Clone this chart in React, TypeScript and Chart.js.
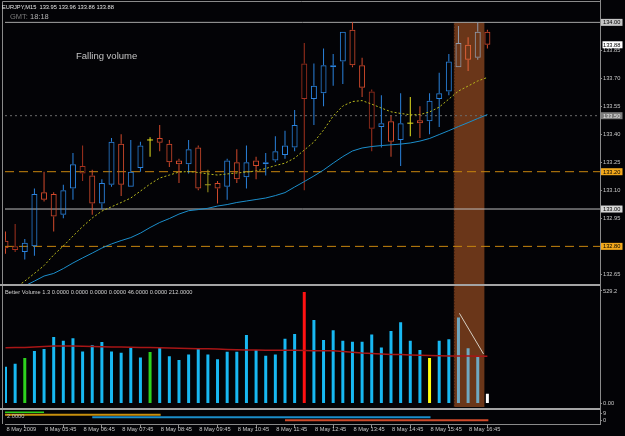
import React, { useEffect, useRef } from 'react';
import { Chart, registerables } from 'chart.js';

Chart.register(...registerables);

// ---------------- data ----------------
const SYMBOL = 'EURJPY,M15';
const GMT_LABEL = 'GMT:';
const GMT_TIME = '18:18';
const NOTE_TEXT = 'Falling volume';
const VOLUME_CAPTION = 'Better Volume 1.3 0.0000 0.0000 0.0000 0.0000 46.0000 0.0000 212.0000';
const LOWER_CAPTION = '2.0000';

const OPEN = [132.83, 132.80, 132.77, 132.80, 133.09, 133.08, 132.97, 133.11, 133.23, 133.18,
  133.03, 133.13, 133.35, 133.12, 133.22, 133.37, 133.38, 133.35, 133.26, 133.24,
  133.33, 133.13, 133.14, 133.12, 133.25, 133.17, 133.26, 133.24, 133.26, 133.29,
  133.33, 133.78, 133.59, 133.62, 133.76, 133.79, 133.96, 133.77, 133.63, 133.44,
  133.47, 133.37, 133.46, 133.475, 133.47, 133.59, 133.63, 133.76, 133.88, 133.81, 133.95];
const HIGH = [132.88, 132.92, 132.84, 133.11, 133.20, 133.09, 133.13, 133.30, 133.34, 133.21,
  133.16, 133.38, 133.40, 133.37, 133.36, 133.385, 133.45, 133.37, 133.27, 133.37,
  133.34, 133.21, 133.15, 133.27, 133.32, 133.34, 133.28, 133.30, 133.39, 133.42,
  133.53, 133.89, 133.78, 133.86, 133.83, 133.95, 134.00, 133.81, 133.64, 133.61,
  133.50, 133.62, 133.60, 133.55, 133.62, 133.73, 133.83, 133.98, 133.92, 134.00, 133.96];
const LOW = [132.76, 132.77, 132.73, 132.75, 133.04, 132.88, 132.95, 133.05, 133.15, 132.97,
  133.00, 133.12, 133.07, 133.12, 133.20, 133.28, 133.31, 133.225, 133.14, 133.19,
  133.10, 133.09, 133.03, 133.05, 133.14, 133.11, 133.16, 133.18, 133.25, 133.27,
  133.31, 133.10, 133.45, 133.55, 133.66, 133.67, 133.76, 133.60, 133.31, 133.33,
  133.28, 133.23, 133.39, 133.38, 133.40, 133.44, 133.61, 133.76, 133.74, 133.80, 133.86];
const CLOSE = [132.79, 132.78, 132.82, 133.08, 133.05, 132.96, 133.10, 133.24, 133.19, 133.03,
  133.14, 133.36, 133.13, 133.20, 133.34, 133.37, 133.355, 133.25, 133.24, 133.32,
  133.11, 133.13, 133.11, 133.26, 133.16, 133.25, 133.23, 133.25, 133.31, 133.34,
  133.45, 133.59, 133.66, 133.77, 133.77, 133.95, 133.77, 133.65, 133.43, 133.46,
  133.36, 133.46, 133.46, 133.46, 133.58, 133.62, 133.79, 133.89, 133.80, 133.95, 133.88];

// moving averages on price
const MA_FAST = [132.539, 132.577, 132.614, 132.655, 132.697, 132.754, 132.802, 132.855, 132.906, 132.952,
  132.989, 133.012, 133.035, 133.059, 133.096, 133.134, 133.166, 133.182, 133.198, 133.201,
  133.196, 133.188, 133.182, 133.188, 133.193, 133.198, 133.204, 133.217, 133.233, 133.246,
  133.273, 133.316, 133.359, 133.423, 133.498, 133.552, 133.576, 133.581, 133.562, 133.541,
  133.521, 133.512, 133.505, 133.506, 133.52, 133.546, 133.589, 133.632, 133.659, 133.686, 133.705];
const MA_SLOW = [132.529, 132.561, 132.588, 132.614, 132.641, 132.655, 132.681, 132.711, 132.738, 132.764,
  132.791, 132.813, 132.831, 132.847, 132.871, 132.901, 132.928, 132.949, 132.973, 132.991,
  132.997, 133.004, 133.016, 133.024, 133.035, 133.043, 133.051, 133.059, 133.072, 133.088,
  133.118, 133.147, 133.177, 133.209, 133.246, 133.281, 133.311, 133.327, 133.335, 133.34,
  133.344, 133.348, 133.354, 133.364, 133.378, 133.399, 133.42, 133.442, 133.463, 133.485, 133.506];

// Better Volume
const VOLUME = [173, 187, 214, 247, 256, 313, 295, 307, 245, 274,
  289, 245, 239, 266, 216, 242, 261, 222, 205, 231,
  258, 231, 208, 244, 244, 322, 252, 225, 231, 305,
  327, 524, 393, 299, 344, 295, 291, 291, 325, 264,
  341, 382, 295, 252, 214, 295, 302, 404, 260, 223, 46];
// n = normal, g = low volume, r = climax, y = churn, c = current bar
const VOLUME_TYPE = ['n', 'n', 'g', 'n', 'n', 'n', 'n', 'n', 'n', 'n',
  'n', 'n', 'n', 'n', 'n', 'g', 'n', 'n', 'n', 'n',
  'n', 'n', 'n', 'n', 'n', 'n', 'n', 'n', 'n', 'n',
  'n', 'r', 'n', 'n', 'n', 'n', 'n', 'n', 'n', 'n',
  'n', 'n', 'n', 'n', 'y', 'n', 'n', 'n', 'n', 'n', 'c'];
const VOLUME_MA = [262, 263, 264, 266, 268, 270, 270, 270, 269, 268,
  267, 266, 266, 265, 264, 263, 262, 261, 260, 259,
  258, 257, 256, 254, 253, 252, 252, 251, 250, 250,
  250, 249, 248, 248, 248, 245, 241, 237, 235, 233,
  231, 230, 228, 227, 226, 225, 224, 223, 223, 222, 222];
const VOLUME_TREND_X = [47.1, 49.6];
const VOLUME_TREND_Y = [424, 233];

// time axis (one label every LABEL_STEP bars)
const LABEL_STEP = 4;
const TIME_LABELS = ['8 May 2009', '8 May 05:45', '8 May 06:45', '8 May 07:45', '8 May 08:45',
  '8 May 09:45', '8 May 10:45', '8 May 11:45', '8 May 12:45', '8 May 13:45',
  '8 May 14:45', '8 May 15:45', '8 May 16:45'];

// axis ticks
const PRICE_TICKS = [132.65, 132.80, 132.95, 133.10, 133.25, 133.40, 133.55, 133.70, 133.85];
const VOLUME_TICKS = [0, 529.2];
const LOWER_TICKS = [0, 9];

// horizontal price levels (objects on the chart)
const LEVEL_PRICES = [134.00, 133.50, 133.20, 133.00, 132.80];

// highlighted zone (bar index range, top price)
const HIGHLIGHT_FROM = 46.52;
const HIGHLIGHT_TO = 49.69;
const HIGHLIGHT_TOP = 134.00;

// lower indicator segments
const LOWER_LEVELS = [9.9, 6.8, 3.5, -0.4];
const LOWER_FROM = [-0.05, -0.05, 9.0, 29.0];
const LOWER_TO = [4.0, 16.1, 44.1, 50.1];

// axis ranges
const X_MIN = -0.052;
const X_MAX = 61.685;
const MAIN_MIN = 132.593;
const MAIN_MAX = 134.077;
const VOL_MIN = -23.5;
const VOL_MAX = 557.4;
const LOW_MIN = -5.14;
const LOW_MAX = 14.79;

// ---------------- layout / style ----------------
const W = 625;
const H = 436;
const AXIS_W = 25;
const XAXIS_H = 12;
const PLOT_TOP = 8;
const MAIN_BOTTOM = 285;
const VOL_BOTTOM = 408.5;
const PLOT_BOTTOM = H - XAXIS_H;
const FONT = "'Liberation Sans', Arial, sans-serif";
const BG = '#030306';
const FRAME = '#8a8a8a';
const TXT = '#c8c8c8';

const LEVEL_STYLE = [
  { line: '#a6a6a6', dash: [] as number[], box: '#c4c4c4', text: '#000000' },
  { line: '#6c6c6c', dash: [2, 3], box: '#7c7c7c', text: '#e8e8e8' },
  { line: '#c8860e', dash: [9, 5], box: '#f2a81c', text: '#000000' },
  { line: '#bdbdbd', dash: [] as number[], box: '#d6d6d6', text: '#000000' },
  { line: '#c8860e', dash: [9, 5], box: '#f2a81c', text: '#000000' },
];
const DARK_BARS = [1, 8, 31, 38];
const OLIVE_BARS = [21];

export default function App() {
  const canvasRef = useRef<HTMLCanvasElement | null>(null);

  useEffect(() => {
    const canvas = canvasRef.current;
    if (!canvas) return;
    const n = CLOSE.length;
    const idx = Array.from({ length: n }, (_, i) => i);
    const inHL = (i: number) => i > HIGHLIGHT_FROM && i < HIGHLIGHT_TO;

    const candleColor = (i: number) => {
      const up = CLOSE[i] > OPEN[i];
      const down = CLOSE[i] < OPEN[i];
      if (inHL(i)) return up ? '#8e99aa' : down ? '#e4643a' : '#d8d040';
      if (!up && !down) return OLIVE_BARS.includes(i) ? '#a09a1e' : '#e8e41e';
      if (DARK_BARS.includes(i)) return '#a3321e';
      return up ? '#2a82dc' : '#d24a2c';
    };
    const colors = idx.map(candleColor);
    const volColor = (i: number) => {
      if (inHL(i)) return '#6fa8c2';
      const t = VOLUME_TYPE[i];
      if (t === 'g') return '#2ed21e';
      if (t === 'r') return '#ff1212';
      if (t === 'y') return '#ffff10';
      if (t === 'c') return '#ffffff';
      return '#18b8f2';
    };

    // clip each dataset to its own pane (the pane area of its y axis)
    const clip = 0;

    const lineBase = { type: 'line', pointRadius: 0, tension: 0, fill: false, borderWidth: 1, clip };
    const barBase = { type: 'bar', grouped: false, borderWidth: 0, inflateAmount: 0, borderSkipped: false, clip };

    const datasets: any[] = [];

    LEVEL_PRICES.forEach((p, k) => {
      datasets.push({
        ...lineBase, yAxisID: 'y', order: 9,
        borderColor: LEVEL_STYLE[k].line, borderDash: LEVEL_STYLE[k].dash,
        data: [{ x: X_MIN, y: p }, { x: X_MAX, y: p }],
      });
    });

    // candles: wicks (upper / lower), hollow bodies, doji crosses
    datasets.push({
      ...barBase, yAxisID: 'y', order: 4, barThickness: 1, maxBarThickness: 1,
      backgroundColor: colors,
      data: idx.map((i) => ({ x: i, y: [Math.max(OPEN[i], CLOSE[i]), HIGH[i]] })),
    });
    datasets.push({
      ...barBase, yAxisID: 'y', order: 4, barThickness: 1, maxBarThickness: 1,
      backgroundColor: colors,
      data: idx.map((i) => ({ x: i, y: [LOW[i], Math.min(OPEN[i], CLOSE[i])] })),
    });
    datasets.push({
      ...barBase, yAxisID: 'y', order: 3, barThickness: 6, maxBarThickness: 6,
      borderWidth: 1, borderColor: colors, backgroundColor: 'rgba(0,0,0,0)',
      data: idx.map((i) => ({ x: i, y: [OPEN[i], CLOSE[i]] })),
    });
    const dojis = idx.filter((i) => OPEN[i] === CLOSE[i]);
    datasets.push({
      type: 'line', showLine: false, yAxisID: 'y', order: 2, clip,
      pointStyle: 'line', pointRadius: 3, pointBorderWidth: 1,
      pointBorderColor: dojis.map((i) => colors[i]),
      data: dojis.map((i) => ({ x: i, y: CLOSE[i] })),
    });

    // moving averages
    datasets.push({
      ...lineBase, yAxisID: 'y', order: 1, borderColor: '#b8b81c', borderDash: [2, 2],
      data: idx.map((i) => ({ x: i, y: MA_FAST[i] })),
    });
    datasets.push({
      ...lineBase, yAxisID: 'y', order: 1, borderColor: '#1b8ecb',
      data: idx.map((i) => ({ x: i, y: MA_SLOW[i] })),
    });

    // volume
    datasets.push({
      ...barBase, yAxisID: 'yVol', order: 4, barThickness: 3, maxBarThickness: 3,
      backgroundColor: idx.map(volColor),
      data: idx.map((i) => ({ x: i, y: VOLUME[i] })),
    });
    datasets.push({
      ...lineBase, yAxisID: 'yVol', order: 2, borderColor: '#a81616', borderWidth: 1.5,
      data: idx.map((i) => ({ x: i, y: VOLUME_MA[i] })),
    });
    datasets.push({
      ...lineBase, yAxisID: 'yVol', order: 1, borderColor: '#d6cfc4',
      data: VOLUME_TREND_X.map((x, k) => ({ x, y: VOLUME_TREND_Y[k] })),
    });

    // lower indicator
    const lowerColors = ['#2ed21e', '#c8900e', '#1b8ecb', '#d04a2a'];
    const lowerWidths = [1.5, 2, 2, 2];
    LOWER_LEVELS.forEach((v, k) => {
      datasets.push({
        ...lineBase, yAxisID: 'yLow', order: 1, borderColor: lowerColors[k], borderWidth: lowerWidths[k],
        data: [{ x: LOWER_FROM[k], y: v }, { x: LOWER_TO[k], y: v }],
      });
    });

    const axisFont = { family: FONT, size: 5.7 };
    const rightAxis = (min: number, max: number, ticks: number[], weight: number, stackWeight: number, fmt: (v: number) => string) => ({
      type: 'linear', position: 'right', stack: 'panes', stackWeight, weight, min, max, beginAtZero: false,
      afterFit: (s: any) => { s.width = AXIS_W; },
      afterBuildTicks: (s: any) => { s.ticks = ticks.map((v) => ({ value: v })); },
      ticks: { callback: (v: any) => fmt(Number(v)), font: axisFont, color: TXT, padding: 1, autoSkip: false },
      grid: { display: true, drawOnChartArea: false, drawTicks: true, tickLength: 2, color: FRAME },
      border: { display: true, color: FRAME },
    });

    const paint = {
      id: 'paint',
      beforeDraw(chart: any) {
        const { ctx } = chart;
        ctx.save();
        ctx.fillStyle = BG;
        ctx.fillRect(0, 0, chart.width, chart.height);
        ctx.restore();
      },
      beforeDatasetsDraw(chart: any) {
        const { ctx, scales } = chart;
        const x0 = scales.x.getPixelForValue(HIGHLIGHT_FROM);
        const x1 = scales.x.getPixelForValue(HIGHLIGHT_TO);
        const y0 = scales.y.getPixelForValue(HIGHLIGHT_TOP);
        const y1 = scales.yVol.bottom - 1.5;
        ctx.save();
        ctx.fillStyle = '#6a3619';
        ctx.fillRect(x0, y0, x1 - x0, y1 - y0);
        ctx.strokeStyle = '#3a1c0c';
        ctx.setLineDash([1, 2]);
        ctx.beginPath();
        ctx.moveTo(Math.round(x0) + 0.5, y0);
        ctx.lineTo(Math.round(x0) + 0.5, y1);
        ctx.stroke();
        ctx.restore();
      },
      afterDraw(chart: any) {
        const { ctx, scales, chartArea } = chart;
        const axisX = scales.y.left;
        ctx.save();
        // frame
        ctx.strokeStyle = FRAME;
        ctx.lineWidth = 1;
        ctx.beginPath();
        ctx.moveTo(2.5, 1.5); ctx.lineTo(axisX, 1.5);
        ctx.moveTo(2.5, 1.5); ctx.lineTo(2.5, chartArea.bottom);
        ctx.moveTo(Math.round(axisX) + 0.5, 0); ctx.lineTo(Math.round(axisX) + 0.5, chartArea.top);
        ctx.stroke();
        // pane separators
        ctx.fillStyle = '#a4a4a4';
        ctx.fillRect(0, scales.yVol.top - 1, axisX, 2);
        ctx.fillRect(0, scales.yLow.top - 0.5, axisX, 2);

        // header texts
        ctx.textBaseline = 'middle';
        ctx.textAlign = 'left';
        const last = CLOSE.length - 1;
        ctx.font = `5.7px ${FONT}`;
        ctx.fillStyle = '#e6e6e6';
        ctx.fillText(`${SYMBOL}  ${OPEN[last].toFixed(2)} ${HIGH[last].toFixed(2)} ${LOW[last].toFixed(2)} ${CLOSE[last].toFixed(2)}`, 2, 7);
        ctx.font = `7.5px ${FONT}`;
        ctx.fillStyle = '#7c7c7c';
        ctx.fillText(GMT_LABEL, 10, 16.8);
        const gw = ctx.measureText(GMT_LABEL + ' ').width;
        ctx.fillStyle = '#b4b4b4';
        ctx.fillText(GMT_TIME, 10 + gw, 16.8);
        ctx.font = `9.5px ${FONT}`;
        ctx.fillStyle = '#c4c4c4';
        ctx.fillText(NOTE_TEXT, 76, 56.5);
        ctx.font = `5.7px ${FONT}`;
        ctx.fillStyle = '#d0d0d0';
        ctx.fillText(VOLUME_CAPTION, 5, 292.3);
        ctx.fillStyle = '#c0c0c0';
        ctx.fillText(LOWER_CAPTION, 7, 416);

        // boxed price labels
        const boxes = LEVEL_PRICES.map((p, k) => ({ p, box: LEVEL_STYLE[k].box, text: LEVEL_STYLE[k].text, x: axisX + 1 }));
        boxes.push({ p: CLOSE[last], box: '#ffffff', text: '#000000', x: axisX + 2.5 });
        boxes.forEach((b) => {
          const y = scales.y.getPixelForValue(b.p);
          ctx.fillStyle = b.box;
          ctx.fillRect(b.x, y - 3.5, W - 2.5 - b.x, 7);
          ctx.fillStyle = b.text;
          ctx.fillText(b.p.toFixed(2), axisX + 3, y + 0.3);
        });
        ctx.restore();
      },
    };

    const chart = new Chart(canvas, {
      type: 'bar',
      data: { datasets },
      options: {
        responsive: false,
        animation: false,
        events: [],
        layout: { padding: { left: 3, top: PLOT_TOP, right: 0, bottom: 0 } },
        plugins: { legend: { display: false }, tooltip: { enabled: false }, title: { display: false } },
        scales: {
          x: {
            type: 'linear', min: X_MIN, max: X_MAX, offset: false,
            afterFit: (s: any) => { s.height = XAXIS_H; },
            afterBuildTicks: (s: any) => { s.ticks = TIME_LABELS.map((_, k) => ({ value: k * LABEL_STEP })); },
            ticks: {
              callback: (v: any) => TIME_LABELS[Math.round(Number(v) / LABEL_STEP)] ?? '',
              align: 'start', autoSkip: false, maxRotation: 0, minRotation: 0,
              font: axisFont, color: TXT, padding: -2.4, labelOffset: 1,
            },
            grid: { display: true, drawOnChartArea: false, drawTicks: true, tickLength: 4, color: FRAME },
            border: { display: true, color: FRAME },
          },
          y: rightAxis(MAIN_MIN, MAIN_MAX, PRICE_TICKS, 1, MAIN_BOTTOM - PLOT_TOP, (v) => v.toFixed(2)),
          yVol: rightAxis(VOL_MIN, VOL_MAX, VOLUME_TICKS, 2, VOL_BOTTOM - MAIN_BOTTOM, (v) => (v === 0 ? '0.00' : v.toFixed(1))),
          yLow: rightAxis(LOW_MIN, LOW_MAX, LOWER_TICKS, 3, PLOT_BOTTOM - VOL_BOTTOM, (v) => String(v)),
        },
      } as any,
      plugins: [paint],
    } as any);

    return () => chart.destroy();
  }, []);

  return (
    <div style={{ position: 'absolute', left: 0, top: 0, width: W, height: H, background: BG }}>
      <canvas ref={canvasRef} width={W} height={H} style={{ display: 'block' }} />
    </div>
  );
}
